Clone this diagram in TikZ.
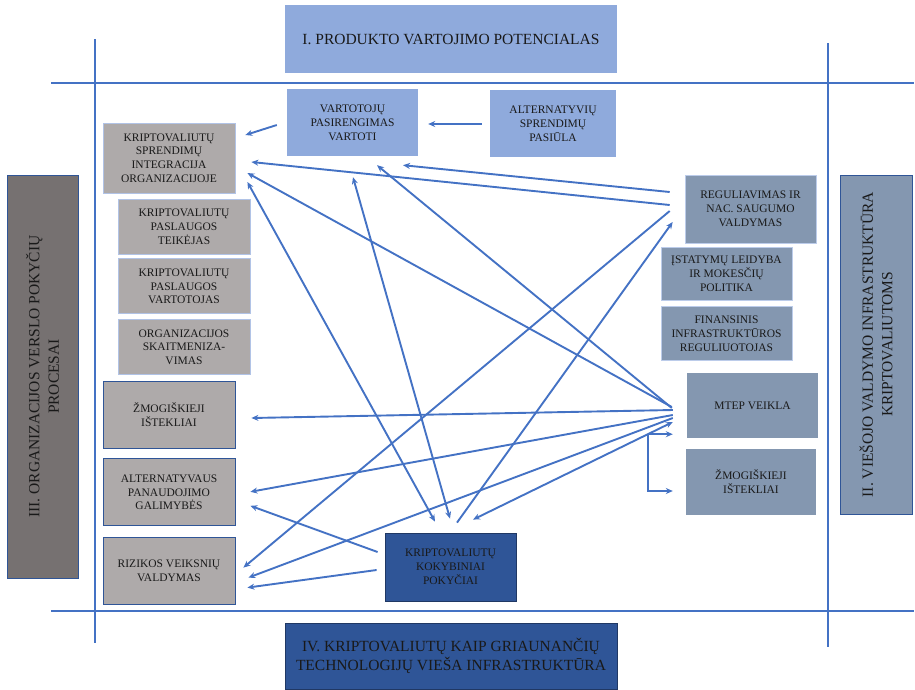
\documentclass[tikz,border=0pt]{standalone}
\usepackage{fontspec}
\setmainfont{Liberation Serif}
\usetikzlibrary{arrows.meta,positioning,calc}

\definecolor{lineblue}{HTML}{4472C4}
\definecolor{paleblue}{HTML}{8FAADC}
\definecolor{deepblue}{HTML}{2F5597}
\definecolor{navyedge}{HTML}{203864}
\definecolor{greybox}{HTML}{AEAAAA}
\definecolor{slategrey}{HTML}{767171}
\definecolor{steelblue}{HTML}{8497B0}

\begin{document}
\begin{tikzpicture}[
x=1pt, y=-1pt,
node distance=4pt,
box/.style={rectangle, minimum width=132pt, minimum height=67pt, inner sep=1pt, align=center, text=black!90, font=\fontsize{11.5}{13.8}\selectfont},
headbox/.style={box, font=\fontsize{15.5}{19.5}\selectfont},
frame/.style={lineblue, line width=2.4pt},
link/.style={lineblue, line width=1.9pt, -{Stealth[length=7pt,width=6pt]}},
linkboth/.style={link, {Stealth[length=7pt,width=6pt]}-{Stealth[length=7pt,width=6pt]}}
]
\useasboundingbox (0,0) rectangle (915,689);

% frame
\draw[frame] (51,83) -- (914,83);
\draw[frame] (51,611) -- (914,611);
\draw[frame] (95,39) -- (95,643);
\draw[frame] (828,43) -- (828,647);

% four sides
\node[headbox, fill=paleblue, minimum width=332pt, minimum height=68pt] (produkt) at (451,39) {I. PRODUKTO VARTOJIMO POTENCIALAS};
\node[headbox, fill=deepblue, draw=navyedge, line width=0.6pt, minimum width=332pt, minimum height=66pt] (infra) at (451,656) {IV. KRIPTOVALIUTŲ KAIP GRIAUNANČIŲ\\TECHNOLOGIJŲ VIEŠA INFRASTRUKTŪRA};
\node[headbox, fill=slategrey, draw=deepblue, line width=0.8pt, rotate=90, minimum width=403pt, minimum height=71pt] (organiz) at (42.5,376.5) {III. ORGANIZACIJOS VERSLO POKYČIŲ\\PROCESAI};
\node[headbox, fill=steelblue, draw=deepblue, line width=0.8pt, rotate=90, minimum width=339pt, minimum height=72pt] (valdym) at (876,344.5) {II. VIEŠOJO VALDYMO INFRASTRUKTŪRA\\KRIPTOVALIUTOMS};

% top row
\node[box, fill=paleblue, minimum width=131pt] (vart) at (352.5,122.5) {VARTOTOJŲ\\PASIRENGIMAS\\VARTOTI};
\node[box, fill=paleblue, minimum width=126pt] (altpas) at (553,123.5) {ALTERNATYVIŲ\\SPRENDIMŲ\\PASIŪLA};

% left column
\node[box, fill=greybox, draw=paleblue!70, line width=0.8pt, minimum height=70pt] (integ) at (169,158) {KRIPTOVALIUTŲ\\SPRENDIMŲ\\INTEGRACIJA\\ORGANIZACIJOJE};
\node[box, fill=greybox, draw=paleblue!70, line width=0.8pt, minimum height=55pt] (teik) at (184,226.5) {KRIPTOVALIUTŲ\\PASLAUGOS\\TEIKĖJAS};
\node[box, fill=greybox, draw=paleblue!70, line width=0.8pt, minimum height=55pt, below=of teik] (vartoj) {KRIPTOVALIUTŲ\\PASLAUGOS\\VARTOTOJAS};
\node[box, fill=greybox, draw=paleblue!70, line width=0.8pt, minimum height=55pt, below=5pt of vartoj] (skait) {ORGANIZACIJOS\\SKAITMENIZA-\\VIMAS};
\node[box, fill=greybox, draw=deepblue, line width=0.8pt] (zmogL) at (169,414.5) {ŽMOGIŠKIEJI\\IŠTEKLIAI};
\node[box, fill=greybox, draw=deepblue, line width=0.8pt, below=10pt of zmogL] (altg) {ALTERNATYVAUS\\PANAUDOJIMO\\GALIMYBĖS};
\node[box, fill=greybox, draw=deepblue, line width=0.8pt, below=11pt of altg] (riz) {RIZIKOS VEIKSNIŲ\\VALDYMAS};

% bottom middle
\node[box, fill=deepblue, draw=navyedge, line width=0.8pt, minimum width=131pt, minimum height=68pt] (kokyb) at (450.5,567) {KRIPTOVALIUTŲ\\KOKYBINIAI\\POKYČIAI};

% right column
\node[box, fill=steelblue, draw=paleblue!60, line width=0.6pt, minimum width=131pt, minimum height=68pt] (regul) at (750.5,209) {REGULIAVIMAS IR\\NAC. SAUGUMO\\VALDYMAS};
\node[box, fill=steelblue, draw=paleblue!60, line width=0.6pt, minimum width=131pt, minimum height=53pt] (istat) at (726.5,273.5) {ĮSTATYMŲ LEIDYBA\\IR MOKESČIŲ\\POLITIKA};
\node[box, fill=steelblue, draw=paleblue!60, line width=0.6pt, minimum width=131pt, minimum height=54pt, below=6pt of istat] (finans) {FINANSINIS\\INFRASTRUKTŪROS\\REGULIUOTOJAS};
\node[box, fill=steelblue, minimum width=131pt, minimum height=65pt] (mtep) at (752.5,405.5) {MTEP VEIKLA};
\node[box, fill=steelblue, minimum width=130pt, minimum height=66pt] (zmogR) at (751,482) {ŽMOGIŠKIEJI\\IŠTEKLIAI};

% connectors
\draw[link] ($(vart.west)+(-10,2.5)$) -- ($(integ.east)+(10,-23)$);
\draw[link] ($(altpas.west)+(-8,0.5)$) -- ($(vart.east)+(10,1.5)$);
\draw[link] ($(regul.west)+(-15,-17)$) -- ($(vart.south)+(50.5,9)$);
\draw[link] ($(regul.west)+(-15,-4)$) -- ($(integ.east)+(16,4)$);
\draw[link] ($(regul.west)+(-15,2)$) -- ($(riz.east)+(8,-3.5)$);
\draw[link] ($(kokyb.north)+(6.5,-10)$) -- ($(regul.west)+(-12,13)$);
\draw[link] ($(mtep.west)+(-15,1.5)$) -- ($(integ.east)+(12,15)$);
\draw[link] ($(mtep.west)+(-15,2.5)$) -- ($(vart.south)+(24.5,9)$);
\draw[linkboth] ($(integ.east)+(12,24)$) -- ($(kokyb.north)+(-15.5,-11)$);
\draw[linkboth] ($(vart.south)+(0.5,21)$) -- ($(kokyb.north)+(-0.5,-14)$);
\draw[link] ($(mtep.west)+(-14,4.5)$) -- ($(zmogL.east)+(16,3.5)$);
\draw[link] ($(mtep.west)+(-14,9.5)$) -- ($(altg.east)+(15,-0.5)$);
\draw[link] ($(mtep.west)+(-14,12.5)$) -- ($(riz.east)+(13,6.5)$);
\draw[linkboth] ($(kokyb.north)+(22.5,-13)$) -- coordinate[pos=0.875] (split) ($(mtep.west)+(-14,16.5)$);
\coordinate (mtepin) at ($(mtep.west)+(-14,0)$);
\draw[link] (split) -- (split -| mtepin);
\draw[link] (split) |- ($(zmogR.west)+(-13,9)$);
\draw[link] ($(kokyb.west)+(-7,-15)$) -- ($(altg.east)+(15,13.5)$);
\draw[link] ($(kokyb.west)+(-8,3)$) -- ($(riz.east)+(12,16.5)$);

\end{tikzpicture}
\end{document}
